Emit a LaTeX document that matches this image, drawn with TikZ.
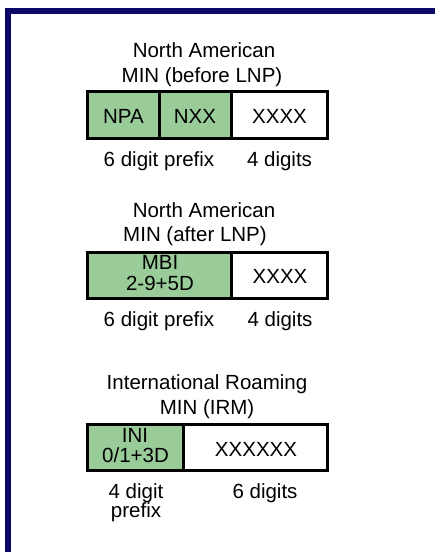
\documentclass[tikz,border=0pt]{standalone}
\usepackage{fontspec}
\setmainfont{Liberation Sans}
\definecolor{navy}{RGB}{12,8,104}
\definecolor{mingreen}{RGB}{153,204,153}
\tikzset{
  lbl/.style={anchor=base, inner sep=0pt, font=\fontsize{20.5}{23}\selectfont},
  cell/.style={draw=black, line width=3pt, inner sep=0pt, minimum height=47pt},
  gcell/.style={cell, fill=mingreen},
  wcell/.style={cell, fill=white},
}
\begin{document}
\begin{tikzpicture}[x=1pt,y=-1pt]
\useasboundingbox (0,0) rectangle (435,552);
% frame
\fill[navy] (5,8) rectangle (435,14);
\fill[navy] (5,8) rectangle (11,552);

% ---------- block 1 ----------
\node[lbl] (t1a) at (204,57) {North American};
\node[lbl] (t1b) at (202,82) {MIN (before LNP)};
\node[gcell, minimum width=71.5pt] (npa) at (123.25,115) {};
\node[gcell, minimum width=72pt] (nxx) at (195,115) {};
\node[wcell, minimum width=96.5pt] (x1) at (279.25,115) {};
\node[lbl] (npat) at (123.5,123) {NPA};
\node[lbl] (nxxt) at (195,123) {NXX};
\node[lbl] (x1t) at (279.5,123) {XXXX};
\node[lbl] (p1) at (159,166) {6 digit prefix};
\node[lbl] (d1) at (279.5,166) {4 digits};

% ---------- block 2 ----------
\node[lbl] (t2a) at (204,217) {North American};
\node[lbl] (t2b) at (195,241) {MIN (after LNP)};
\node[gcell, minimum width=143.5pt, minimum height=46pt] (mbi) at (159.25,275.5) {};
\node[wcell, minimum width=96.5pt, minimum height=46pt] (x2) at (279.25,275.5) {};
\node[lbl] (mbit) at (160,269) {MBI};
\node[lbl] (mbid) at (160,290) {2-9+5D};
\node[lbl] (x2t) at (280,283) {XXXX};
\node[lbl] (p2) at (159,326) {6 digit prefix};
\node[lbl] (d2) at (280,326) {4 digits};

% ---------- block 3 ----------
\node[lbl] (t3a) at (207,389) {International Roaming};
\node[lbl] (t3b) at (207,414) {MIN (IRM)};
\node[gcell, minimum width=95.5pt, minimum height=46pt] (ini) at (135.25,447.5) {};
\node[wcell, minimum width=144.5pt, minimum height=46pt] (x3) at (255.25,447.5) {};
\node[lbl] (init) at (135,442) {INI};
\node[lbl] (inid) at (135.5,462) {0/1+3D};
\node[lbl] (x3t) at (256,456) {XXXXXX};
\node[lbl] (p3a) at (136,498) {4 digit};
\node[lbl] (p3b) at (136,517) {prefix};
\node[lbl] (d3) at (265,498) {6 digits};
\end{tikzpicture}
\end{document}
